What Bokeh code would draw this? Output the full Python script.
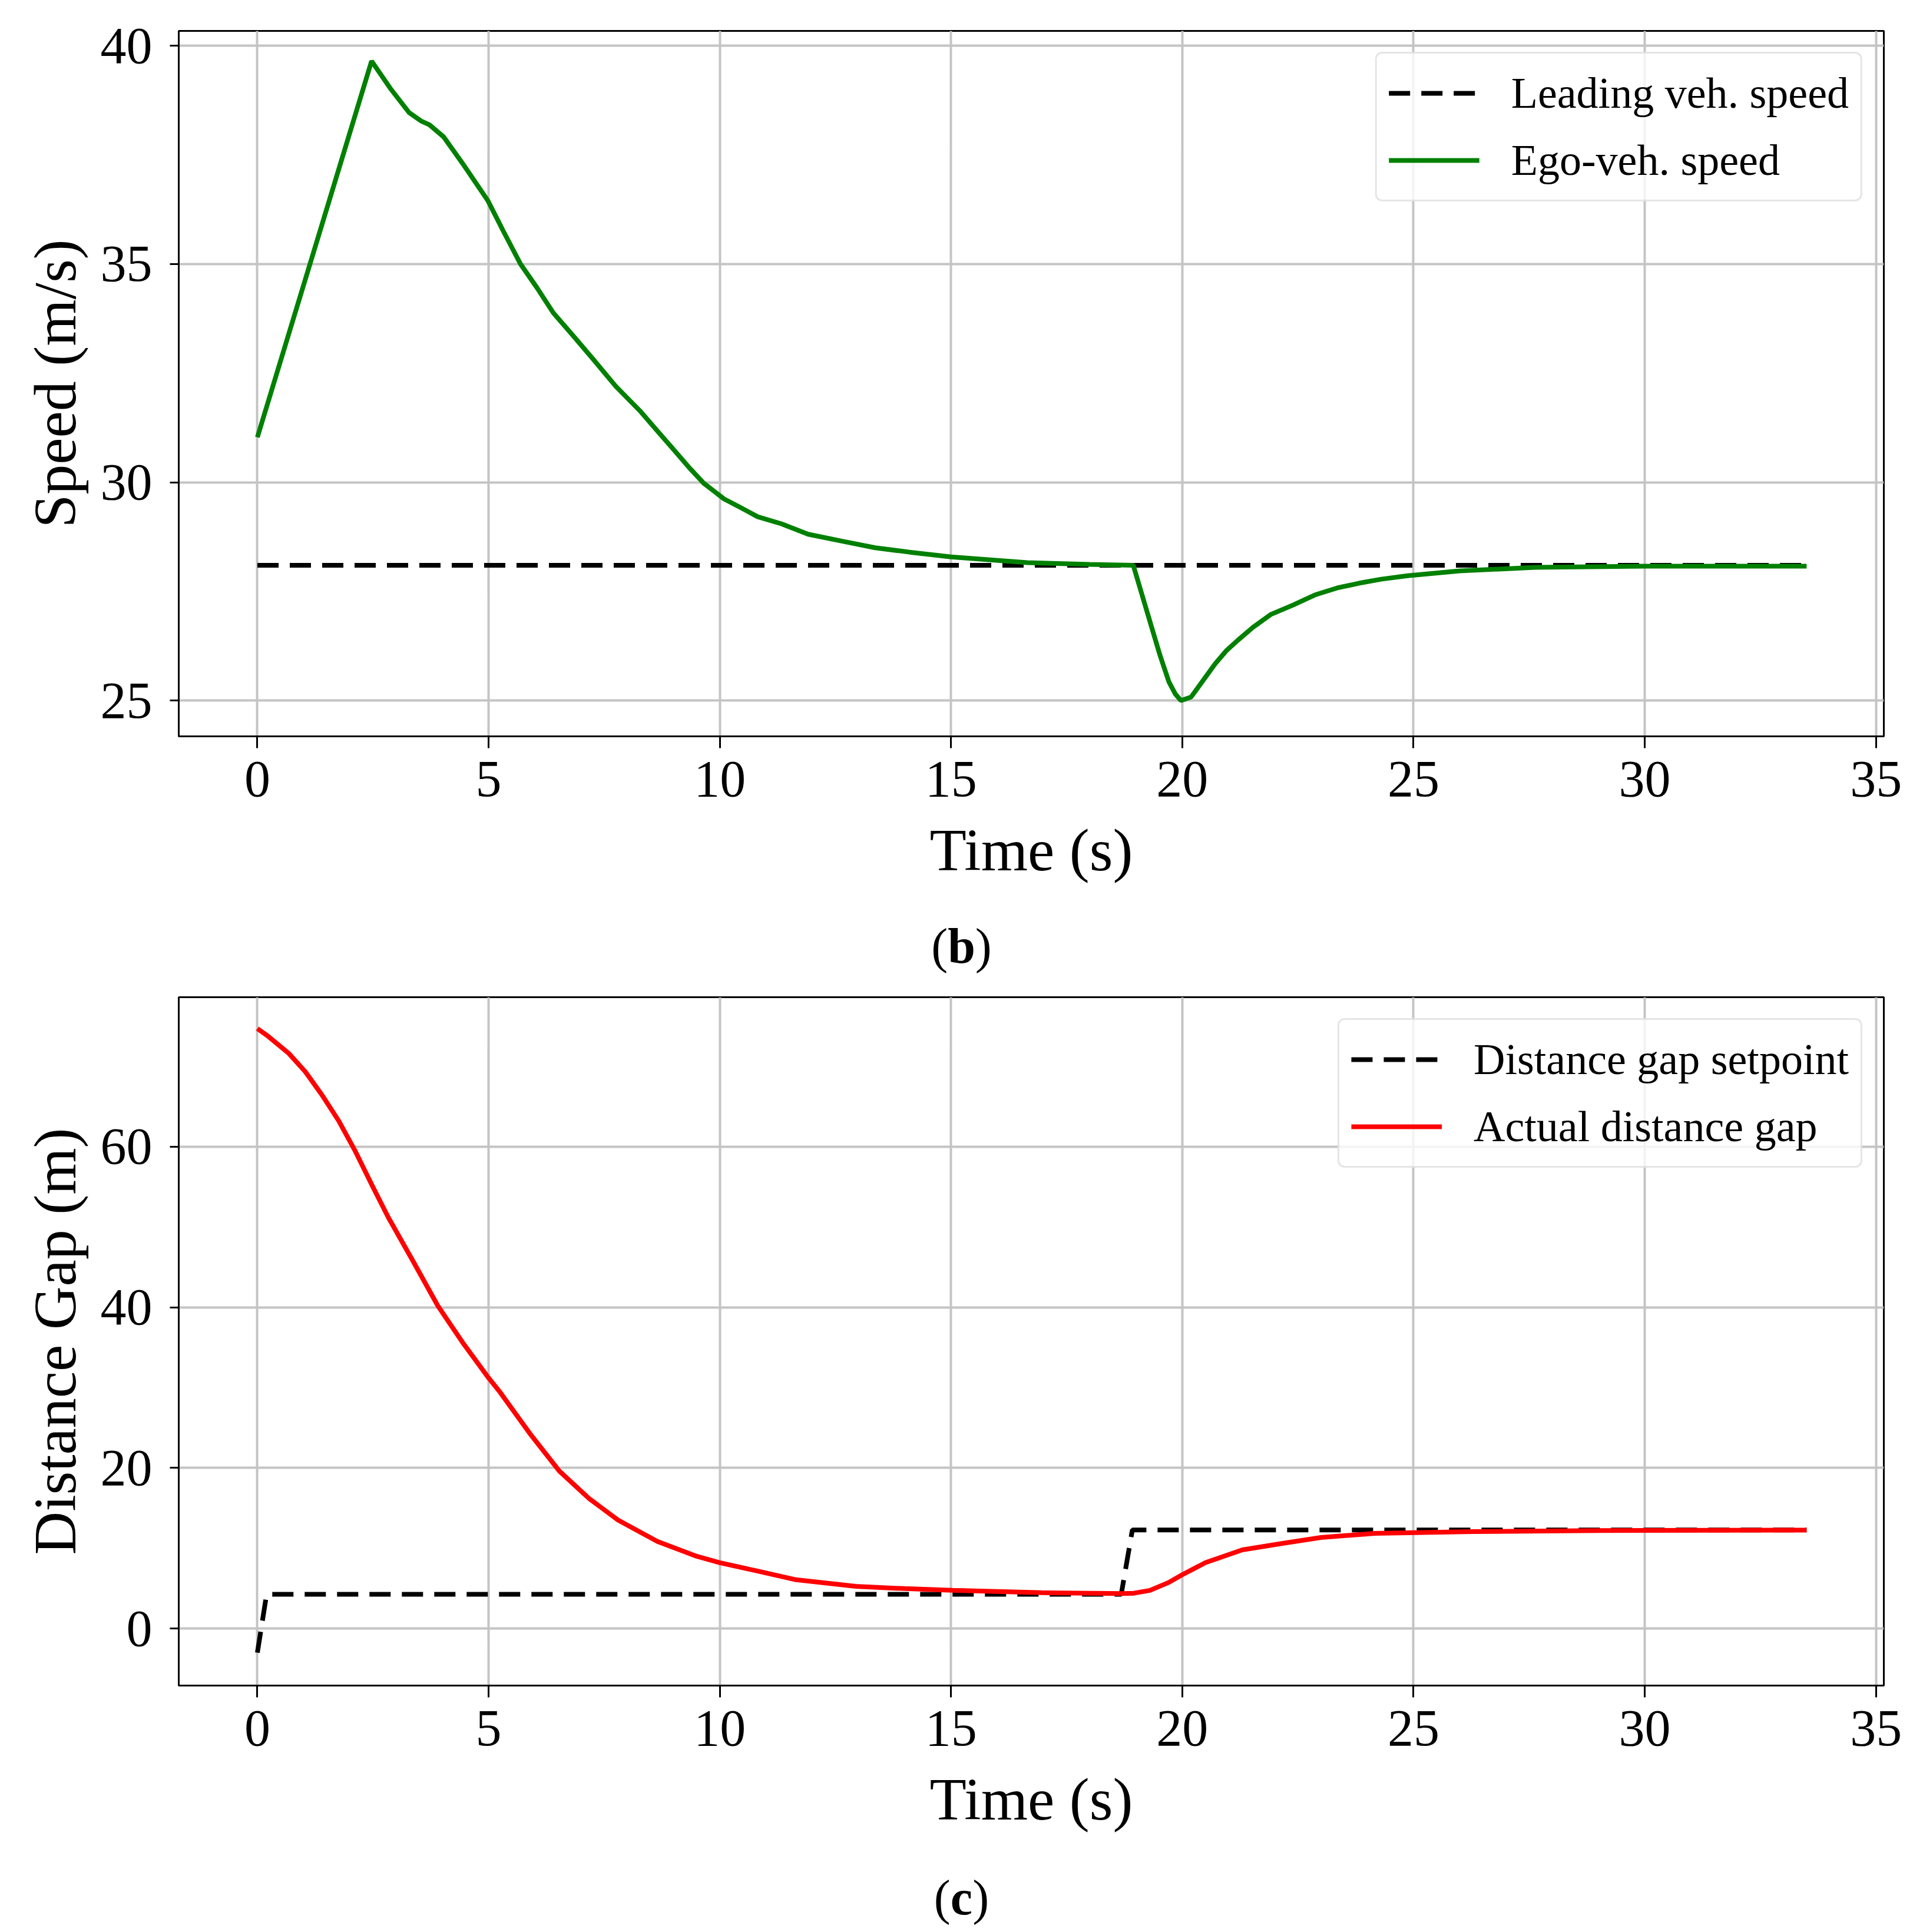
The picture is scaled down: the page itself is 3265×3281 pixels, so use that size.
from bokeh.plotting import figure
from bokeh.models import Range1d, Legend, LegendItem, Div, FixedTicker
from bokeh.layouts import column
from bokeh.embed import file_html
from bokeh.resources import INLINE

# (b) speed plot
t_lead = [0, 33.5]
v_lead = [28.1, 28.1]

t_ego = [0, 2.47, 2.87, 3.28, 3.55, 3.72, 4.03, 4.44, 4.98, 5.33, 5.69, 6.05,
         6.4, 6.85, 7.3, 7.75, 8.27, 8.63, 9.0, 9.36, 9.65, 9.87, 10.09, 10.45,
         10.82, 11.33, 11.91, 12.65, 13.36, 14.1, 15.0, 16.65, 18.0, 18.94,
         19.27, 19.52, 19.71, 19.85, 19.97, 20.19, 20.47, 20.71, 20.96, 21.2,
         21.53, 21.91, 22.4, 22.87, 23.35, 23.83, 24.3, 24.87, 26.0, 27.64,
         30.0, 33.5]
v_ego = [31.03, 39.65, 39.03, 38.47, 38.27, 38.19, 37.91, 37.3, 36.46, 35.73,
         35.0, 34.45, 33.88, 33.33, 32.77, 32.2, 31.64, 31.2, 30.75, 30.31,
         29.98, 29.8, 29.62, 29.42, 29.21, 29.05, 28.81, 28.65, 28.5, 28.4,
         28.29, 28.16, 28.12, 28.1, 26.92, 26.03, 25.43, 25.15, 25.0, 25.08,
         25.49, 25.84, 26.15, 26.38, 26.68, 26.97, 27.19, 27.42, 27.58, 27.69,
         27.78, 27.86, 27.97, 28.05, 28.08, 28.08]

# (c) distance gap plot
t_set = [0, 0.2, 18.68, 18.92, 33.5]
d_set = [-3.0, 4.27, 4.27, 12.27, 12.27]

t_gap = [0, 0.24, 0.68, 1.04, 1.4, 1.76, 2.12, 2.47, 2.83, 3.37, 3.9, 4.44, 5.0,
         5.25, 5.89, 6.53, 7.17, 7.8, 8.65, 9.5, 10.0, 10.78, 11.62, 12.94,
         14.0, 15.04, 16.96, 18.7, 18.95, 19.3, 19.7, 20.0, 20.5, 21.3, 22.17,
         23.0, 24.17, 26.3, 29.0, 33.5]
d_gap = [74.7, 73.7, 71.6, 69.3, 66.4, 63.2, 59.4, 55.3, 51.2, 45.7, 40.2,
         35.6, 31.2, 29.4, 24.3, 19.6, 16.2, 13.5, 10.85, 9.0, 8.19, 7.2, 6.1,
         5.25, 4.97, 4.75, 4.46, 4.35, 4.4, 4.75, 5.72, 6.7, 8.2, 9.8, 10.6,
         11.34, 11.85, 12.07, 12.2, 12.25]

x_ticks = [0, 5, 10, 15, 20, 25, 30, 35]
speed_ticks = [25, 30, 35, 40]
gap_ticks = [0, 20, 40, 60]

FONT = "Liberation Serif"
W = 3265


def base_figure(height, y_range, y_ticks, y_label, top_border):
    p = figure(width=W, height=height, output_backend="svg", toolbar_location=None,
               x_range=Range1d(-1.7, 35.17), y_range=y_range,
               min_border_left=303, min_border_right=67,
               min_border_top=top_border, min_border_bottom=310)
    p.background_fill_color = "white"
    p.border_fill_color = "white"
    p.outline_line_color = "black"
    p.outline_line_width = 3
    p.outline_line_alpha = 1.0

    p.xaxis.ticker = FixedTicker(ticks=x_ticks)
    p.yaxis.ticker = FixedTicker(ticks=y_ticks)
    p.xaxis.axis_label = "Time (s)"
    p.yaxis.axis_label = y_label
    for ax in (p.xaxis, p.yaxis):
        ax.axis_line_color = "black"
        ax.axis_line_width = 3
        ax.major_tick_line_color = "black"
        ax.major_tick_line_width = 3
        ax.major_tick_in = 0
        ax.minor_tick_line_color = None
        ax.major_label_text_font = FONT
        ax.major_label_text_font_size = "88px"
        ax.major_label_text_color = "black"
        ax.axis_label_text_font = FONT
        ax.axis_label_text_font_size = "102px"
        ax.axis_label_text_font_style = "normal"
        ax.axis_label_text_color = "black"
    p.xaxis.major_tick_out = 20
    p.yaxis.major_tick_out = 15
    p.xaxis.major_label_standoff = 23
    p.yaxis.major_label_standoff = 30
    p.xaxis.axis_label_standoff = 32
    p.yaxis.axis_label_standoff = 18

    p.xgrid.grid_line_color = "#c4c4c4"
    p.ygrid.grid_line_color = "#c4c4c4"
    p.xgrid.grid_line_width = 4
    p.ygrid.grid_line_width = 4
    return p


def add_legend(p, items):
    leg = Legend(items=items, location="top_right")
    leg.margin = 36
    leg.padding = 20
    leg.spacing = 20
    leg.glyph_width = 154
    leg.glyph_height = 94
    leg.label_height = 94
    leg.label_standoff = 54
    leg.label_text_font = FONT
    leg.label_text_font_size = "74px"
    leg.label_text_color = "black"
    leg.border_line_color = "#cccccc"
    leg.border_line_width = 3
    leg.border_radius = 12
    leg.background_fill_color = "white"
    leg.background_fill_alpha = 0.8
    p.add_layout(leg)


def caption(letter, height, pad):
    html = ('<div style="width:%dpx;text-align:center;font-family:\'%s\';'
            'font-size:84px;line-height:94px;padding-top:%dpx;color:black;">'
            '(<b>%s</b>)</div>' % (W, FONT, pad, letter))
    return Div(text=html, width=W, height=height, margin=0)


# top plot
p1 = base_figure(1560, Range1d(24.18, 40.34), speed_ticks, "Speed (m/s)", 52)
r_lead = p1.line(t_lead, v_lead, line_color="black", line_width=8, line_dash="36 19")
r_ego = p1.line(t_ego, v_ego, line_color="#008000", line_width=8)
add_legend(p1, [LegendItem(label="Leading veh. speed", renderers=[r_lead]),
                LegendItem(label="Ego-veh. speed", renderers=[r_ego])])

# bottom plot
p2 = base_figure(1512, Range1d(-7.1, 78.6), gap_ticks, "Distance Gap (m)", 33)
r_set = p2.line(t_set, d_set, line_color="black", line_width=8, line_dash="36 19")
r_gap = p2.line(t_gap, d_gap, line_color="#ff0000", line_width=8)
add_legend(p2, [LegendItem(label="Distance gap setpoint", renderers=[r_set]),
                LegendItem(label="Actual distance gap", renderers=[r_gap])])

layout = column(p1, caption("b", 100, 0), p2, caption("c", 105, 4))

open("out.html", "w").write(file_html(layout, INLINE))
